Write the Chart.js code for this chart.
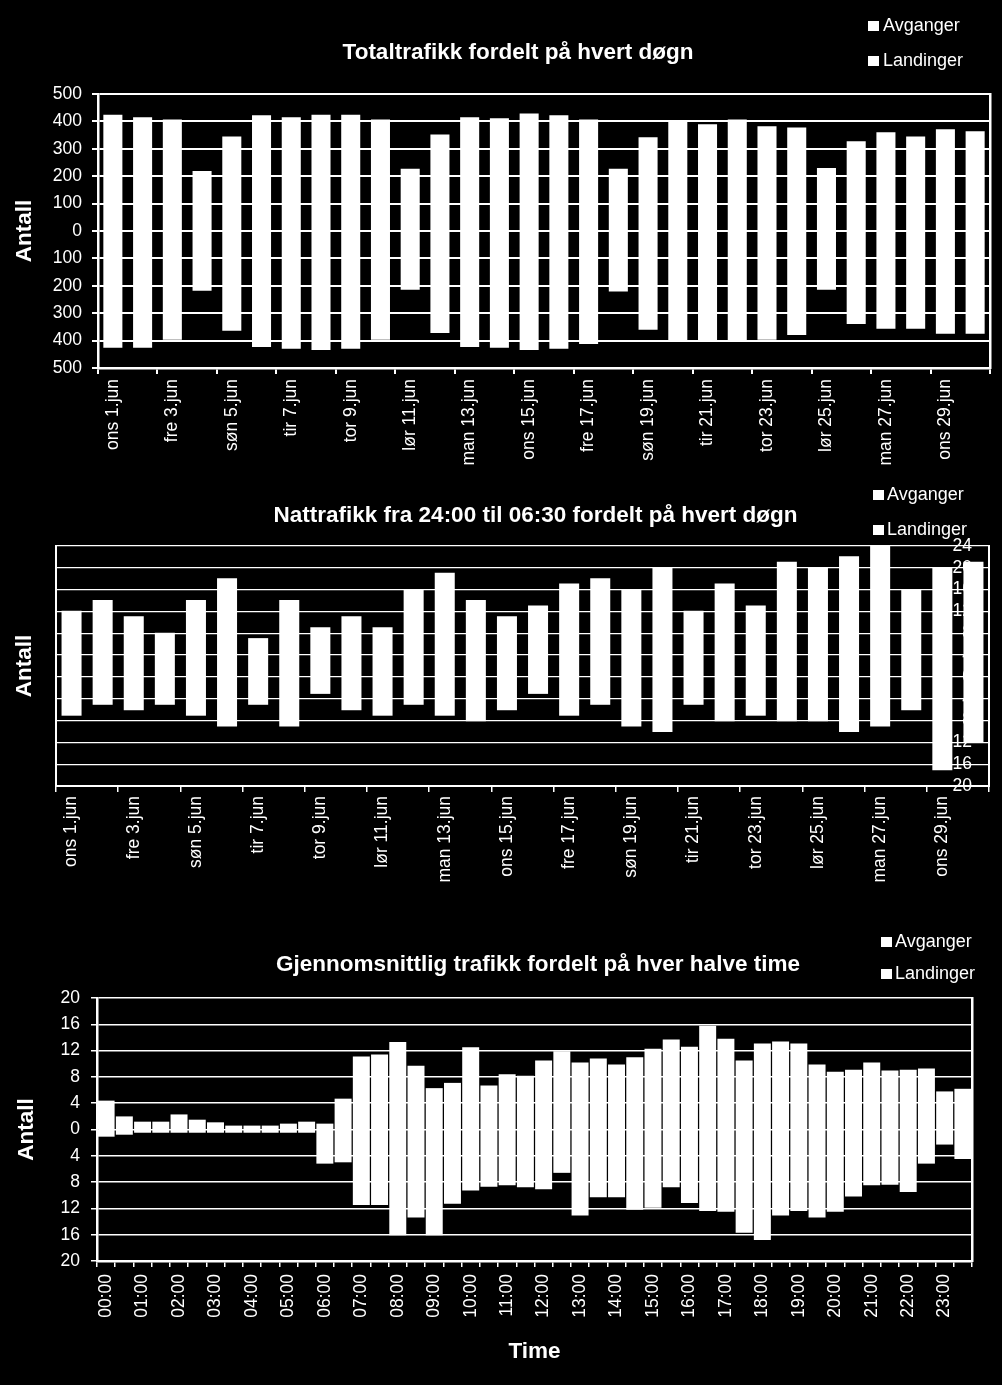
<!DOCTYPE html>
<html>
<head>
<meta charset="utf-8">
<script src="https://cdn.jsdelivr.net/npm/chart.js@4.4.1/dist/chart.umd.min.js"></script>
<style>
  html, body { margin:0; padding:0; background:#000; }
  body { width:1002px; height:1385px; position:relative; overflow:hidden; font-family:"Liberation Sans", Arial, sans-serif; color:#fff; }
  canvas { position:absolute; left:0; }
  .title { position:absolute; width:700px; text-align:center; font-weight:bold; font-size:22.5px; line-height:26px; height:26px; white-space:nowrap; }
  .leg { position:absolute; font-size:18px; line-height:20px; height:20px; white-space:nowrap; }
  .sq { position:absolute; width:11px; height:10px; background:#fff; }
</style>
</head>
<body>
<canvas id="c1" width="1002" height="470" style="top:0px;width:1002px;height:470px"></canvas>
<canvas id="c2" width="1002" height="430" style="top:470px;width:1002px;height:430px"></canvas>
<canvas id="c3" width="1002" height="485" style="top:900px;width:1002px;height:485px"></canvas>

<div class="title" style="left:168px;top:38.5px">Totaltrafikk fordelt på hvert døgn</div>
<div class="title" style="left:185.5px;top:502px">Nattrafikk fra 24:00 til 06:30 fordelt på hvert døgn</div>
<div class="title" style="left:188px;top:950.5px">Gjennomsnittlig trafikk fordelt på hver halve time</div>

<div class="sq" style="left:868px;top:21px"></div><div class="leg" style="left:883px;top:14.7px">Avganger</div>
<div class="sq" style="left:868px;top:56px"></div><div class="leg" style="left:883px;top:50.2px">Landinger</div>

<div class="sq" style="left:873px;top:490px"></div><div class="leg" style="left:887px;top:484px">Avganger</div>
<div class="sq" style="left:873px;top:525px"></div><div class="leg" style="left:887px;top:519px">Landinger</div>

<div class="sq" style="left:881px;top:937px"></div><div class="leg" style="left:895px;top:930.7px">Avganger</div>
<div class="sq" style="left:881px;top:968.5px"></div><div class="leg" style="left:895px;top:963px">Landinger</div>

<script>
// ---------- DATA ----------
const days = ["ons 1.jun","tor 2.jun","fre 3.jun","lør 4.jun","søn 5.jun","man 6.jun","tir 7.jun","ons 8.jun","tor 9.jun","fre 10.jun",
  "lør 11.jun","søn 12.jun","man 13.jun","tir 14.jun","ons 15.jun","tor 16.jun","fre 17.jun","lør 18.jun","søn 19.jun","man 20.jun",
  "tir 21.jun","ons 22.jun","tor 23.jun","fre 24.jun","lør 25.jun","søn 26.jun","man 27.jun","tir 28.jun","ons 29.jun","tor 30.jun"];

const totalAvganger  = [422,413,405,217,343,420,413,422,422,405,225,350,413,409,427,420,405,225,340,399,387,405,380,376,228,325,358,343,369,362];
const totalLandinger = [424,424,395,216,362,421,428,432,428,395,212,370,421,424,432,428,410,219,358,401,400,400,395,377,212,337,355,355,373,373];

const nattAvganger  = [12,14,11,8,14,18,7,14,9,11,9,16,19,14,11,13,17,18,16,20,12,17,13,21,20,22,24,16,20,21];
const nattLandinger = [7,5,6,5,7,9,5,9,3,6,7,5,7,8,6,3,7,5,9,10,5,8,7,8,8,10,9,6,17,12];

const halfHours = ["00:00","00:30","01:00","01:30","02:00","02:30","03:00","03:30","04:00","04:30","05:00","05:30",
  "06:00","06:30","07:00","07:30","08:00","08:30","09:00","09:30","10:00","10:30","11:00","11:30",
  "12:00","12:30","13:00","13:30","14:00","14:30","15:00","15:30","16:00","16:30","17:00","17:30",
  "18:00","18:30","19:00","19:30","20:00","20:30","21:00","21:30","22:00","22:30","23:00","23:30"];
const snittAvganger  = [4.3,1.9,1.1,1.1,2.2,1.4,1.0,0.5,0.5,0.5,0.8,1.1,0.8,4.6,11.0,11.3,13.2,9.6,6.2,7.0,12.4,6.6,8.3,8.1,
  10.4,11.8,10.1,10.7,9.8,10.9,12.2,13.6,12.5,15.7,13.7,10.4,13.0,13.3,13.0,9.8,8.7,9.0,10.1,8.9,9.0,9.2,5.7,6.1];
const snittLandinger = [1.0,0.7,0.4,0.4,0.4,0.4,0.4,0.4,0.4,0.4,0.4,0.4,5.1,4.9,11.4,11.4,16.0,13.3,16.0,11.2,9.2,8.6,8.4,8.7,
  9.0,6.5,13.0,10.2,10.2,12.1,11.8,8.7,11.1,12.3,12.4,15.6,16.7,13.0,12.3,13.3,12.4,10.1,8.4,8.3,9.4,5.1,2.2,4.4];

const seriesNames = ["Avganger","Landinger"];

// ---------- STYLE ----------
const FAM = '"Liberation Sans", Arial, sans-serif';
const W = '#ffffff';
const tickFont = {family: FAM, size: 17.5};
const axTitleFont = {family: FAM, size: 22.5, weight: 'bold'};
const absLabel = v => Math.abs(v);
const everyOther = function(val, i) { return i % 2 === 0 ? this.getLabelForValue(val) : ''; };
const tickEvery2 = c => (c.index === undefined || c.index % 2 === 0) ? W : 'rgba(0,0,0,0)';

function datasets(pos, neg, bp) {
  return [
    {label: seriesNames[0], data: pos, backgroundColor: W, borderWidth: 0, inflateAmount: 0.6, barPercentage: bp, categoryPercentage: 1},
    {label: seriesNames[1], data: neg.map(v => -v), backgroundColor: W, borderWidth: 0, inflateAmount: 0.6, barPercentage: bp, categoryPercentage: 1}
  ];
}
const basePlugins = {legend: {display: false}, title: {display: false}, tooltip: {enabled: false}};

// ---------- CHART 1 ----------
new Chart(document.getElementById('c1'), {
  type: 'bar',
  data: {labels: days, datasets: datasets(totalAvganger, totalLandinger, 0.6)},
  options: {
    responsive: false, animation: false, events: [],
    layout: {padding: {top: 94, left: 0, right: 12, bottom: 0}},
    plugins: basePlugins,
    scales: {
      x: {
        stacked: true,
        grid: {offset: true, drawOnChartArea: false, drawTicks: true, tickLength: 6, color: tickEvery2, lineWidth: 2},
        border: {color: W, width: 2.5},
        ticks: {autoSkip: false, minRotation: 90, maxRotation: 90, padding: 5, color: W, font: tickFont, callback: everyOther},
        afterFit: s => { s.height = 102; }
      },
      y: {
        stacked: true, min: -500, max: 500,
        ticks: {stepSize: 100, autoSkip: false, color: W, font: tickFont, padding: 10, callback: absLabel},
        grid: {color: W, lineWidth: 2, tickLength: 6},
        border: {color: W, width: 2.5},
        title: {display: true, text: 'Antall', color: W, font: axTitleFont, padding: {top: 11.5, bottom: 0}},
        afterFit: s => { s.width = 98; }
      },
      yR: {
        type: 'linear', position: 'right',
        ticks: {display: false}, grid: {display: false},
        border: {color: W, width: 2.5},
        afterFit: s => { s.width = 0; }
      }
    }
  }
});

// ---------- CHART 2 ----------
new Chart(document.getElementById('c2'), {
  type: 'bar',
  data: {labels: days, datasets: datasets(nattAvganger, nattLandinger, 0.605)},
  options: {
    responsive: false, animation: false, events: [],
    layout: {padding: {top: 76, left: 0, right: 13, bottom: 0}},
    plugins: basePlugins,
    scales: {
      x: {
        stacked: true,
        grid: {offset: true, drawOnChartArea: false, drawTicks: true, tickLength: 6, color: tickEvery2, lineWidth: 1.5},
        border: {color: W, width: 2},
        ticks: {autoSkip: false, minRotation: 90, maxRotation: 90, padding: 4, color: W, font: tickFont, callback: everyOther},
        afterFit: s => { s.height = 114; }
      },
      y: {
        stacked: true, min: -20, max: 24,
        ticks: {display: false, stepSize: 4, autoSkip: false},
        grid: {color: W, lineWidth: 1.2, drawTicks: false},
        border: {color: W, width: 2},
        title: {display: true, text: 'Antall', color: W, font: axTitleFont, padding: {top: 11.5, bottom: 0}},
        afterFit: s => { s.width = 56; }
      },
      y2: {
        type: 'linear', position: 'right', min: -20, max: 24,
        ticks: {stepSize: 4, autoSkip: false, mirror: true, crossAlign: 'near', padding: -17, color: W, font: tickFont, callback: absLabel},
        grid: {display: false},
        border: {color: W, width: 2},
        afterFit: s => { s.width = 0; }
      }
    }
  }
});

// ---------- CHART 3 ----------
new Chart(document.getElementById('c3'), {
  type: 'bar',
  data: {labels: halfHours, datasets: datasets(snittAvganger, snittLandinger, 0.865)},
  options: {
    responsive: false, animation: false, events: [],
    layout: {padding: {top: 98, left: 0, right: 30, bottom: 0}},
    plugins: basePlugins,
    scales: {
      x: {
        stacked: true,
        grid: {offset: true, drawOnChartArea: false, drawTicks: true, tickLength: 6, color: W, lineWidth: 1.5},
        border: {color: W, width: 2.5},
        ticks: {autoSkip: false, minRotation: 90, maxRotation: 90, padding: 7, color: W, font: tickFont, callback: everyOther},
        title: {display: true, text: 'Time', color: W, font: axTitleFont, padding: {top: 0, bottom: 20}},
        afterFit: s => { s.height = 124; }
      },
      y: {
        stacked: true, min: -20, max: 20,
        ticks: {stepSize: 4, autoSkip: false, color: W, font: tickFont, padding: 11, callback: absLabel},
        grid: {color: W, lineWidth: 1.5, tickLength: 6},
        border: {color: W, width: 2.5},
        title: {display: true, text: 'Antall', color: W, font: axTitleFont, padding: {top: 13.5, bottom: 0}},
        afterFit: s => { s.width = 97; }
      },
      yR: {
        type: 'linear', position: 'right',
        ticks: {display: false}, grid: {display: false},
        border: {color: W, width: 2.5},
        afterFit: s => { s.width = 0; }
      }
    }
  }
});
</script>
</body>
</html>
